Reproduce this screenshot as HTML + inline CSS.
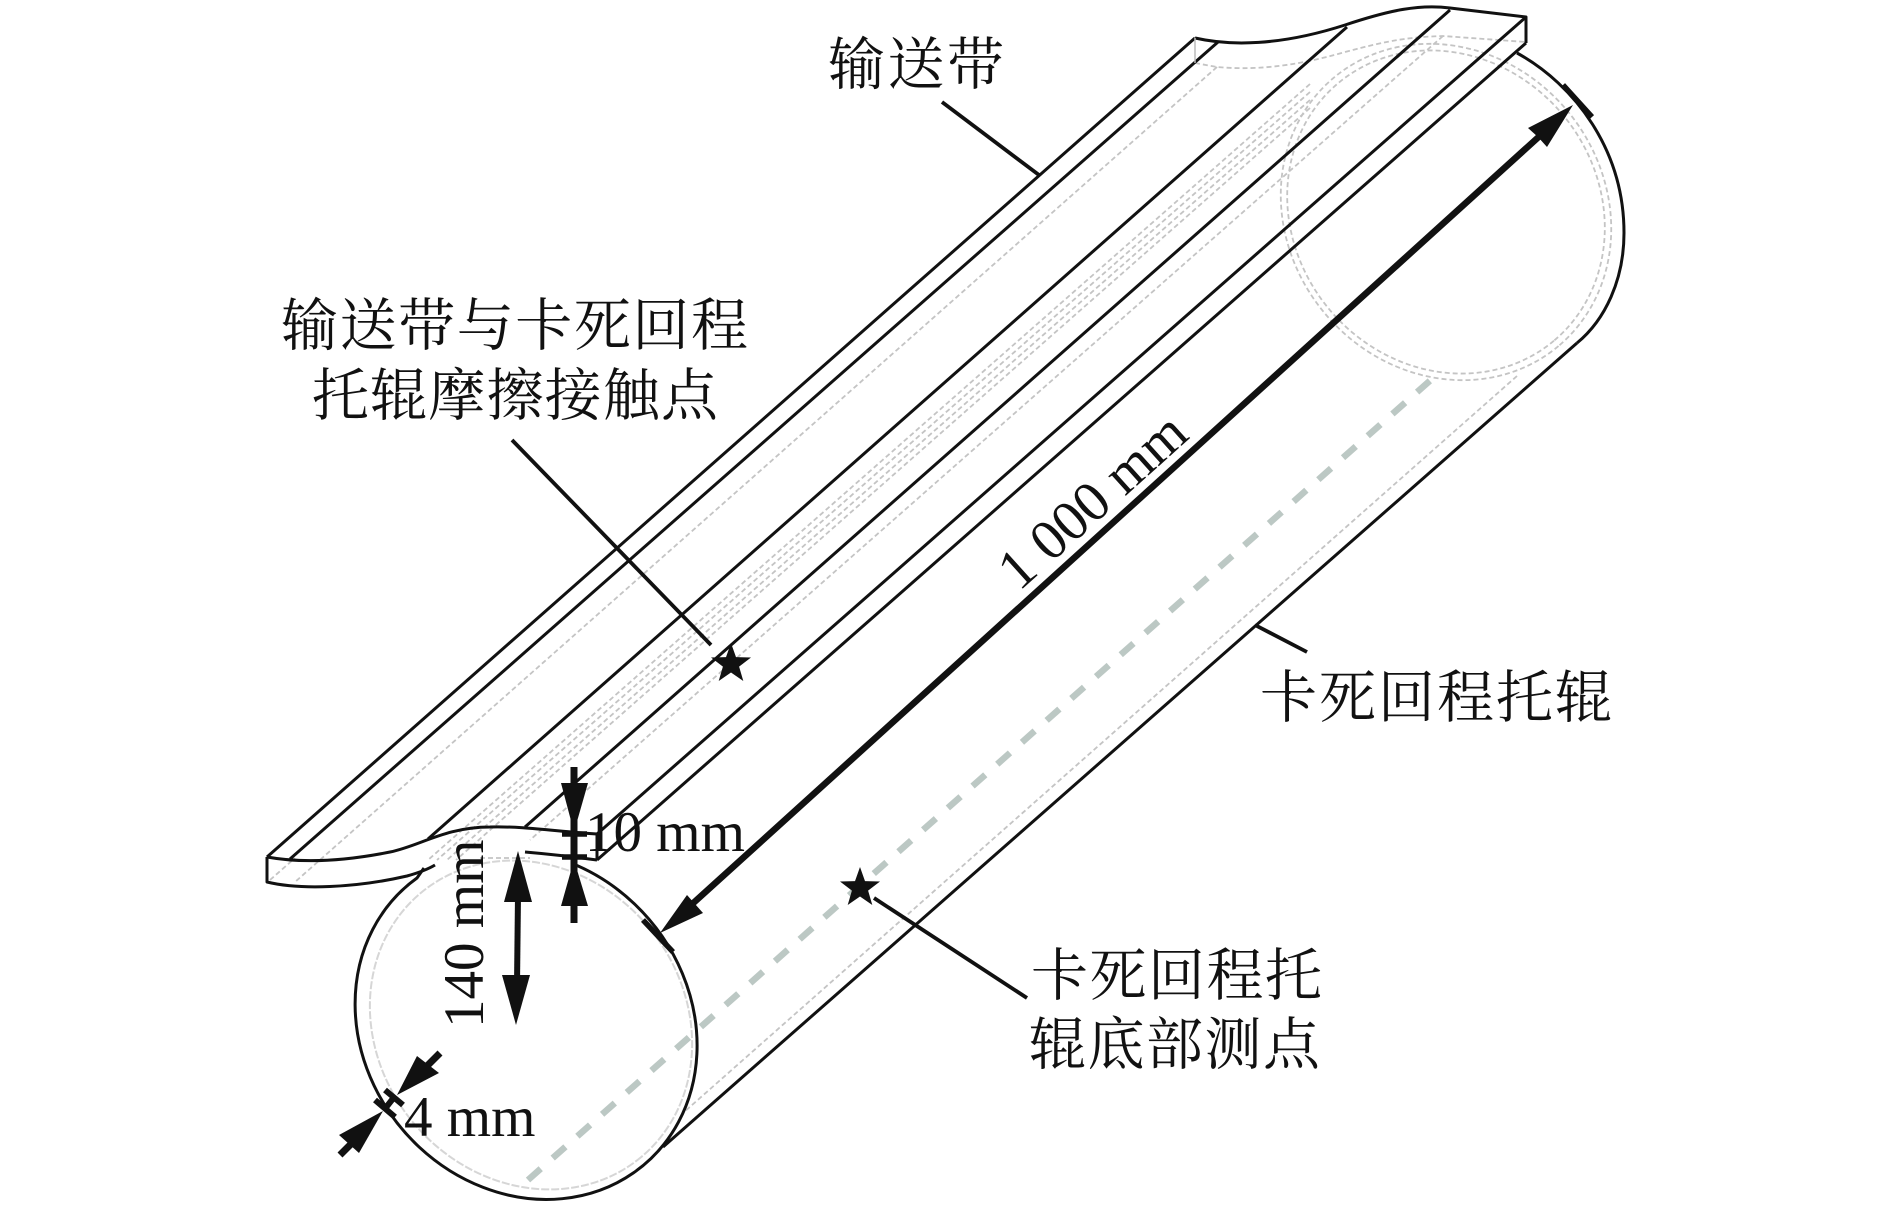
<!DOCTYPE html>
<html>
<head>
<meta charset="utf-8">
<style>
html,body{margin:0;padding:0;background:#fff;}
svg{display:block;}
.cn{font-family:"Liberation Serif","Noto Serif CJK SC",serif;font-size:57px;fill:#111;}
.en{font-family:"Liberation Serif",serif;font-size:57px;fill:#111;}
</style>
</head>
<body>
<svg xmlns="http://www.w3.org/2000/svg" width="1890" height="1208" viewBox="0 0 1890 1208">
<rect width="1890" height="1208" fill="#fff"/>

<!-- light hidden lines -->
<g fill="none" stroke="#c4c4c4" stroke-width="1.8" stroke-dasharray="5 3">
  <ellipse cx="1446" cy="212" rx="175" ry="158" transform="rotate(50 1446 212)"/>
  <ellipse cx="1446" cy="212" rx="168" ry="152" transform="rotate(50 1446 212)"/>
  <path d="M1195,63 L1217,67 C1250,70 1290,68 1345,52 C1390,40 1410,37 1443,36 L1526,42"/>
  <path d="M1217,67 L295,882"/>
  <path d="M270,880 L295,858"/>
  <path d="M1310,84 L428,860"/>
  <path d="M1310,92 L437,860"/>
  <path d="M1310,100 L447,860"/>
  <path d="M1310,108 L456,860"/>
  <path d="M1443,36 L530,840"/>
  <path d="M1517,376 L683,1113"/>
  <path d="M480,858 L530,858"/>
</g>
<ellipse cx="531" cy="1025" rx="172" ry="153" transform="rotate(50 531 1025)" fill="none" stroke="#d6d6d6" stroke-width="2" stroke-dasharray="8 2"/>

<!-- dashed bottom line -->
<path d="M528,1180 L1433,378" fill="none" stroke="#bcc8c4" stroke-width="6.5" stroke-dasharray="17 16"/>

<!-- black outline -->
<g fill="none" stroke="#111" stroke-width="3" stroke-linejoin="round">
  <path d="M267,857 L1195,38"/>
  <path d="M290,859 L1218,42"/>
  <path d="M428,839 L1347,27"/>
  <path d="M525,827 L1450,10"/>
  <path d="M597,834 L1526,17"/>
  <path d="M597,860 L1526,43"/>
  <path d="M267,857 C300,863 340,862 390,852 C420,846 445,827 490,827 C525,826 560,832 597,834"/>
  <path d="M1195,38 C1230,46 1280,46 1345,25 C1390,10 1420,4 1450,8 L1526,17 L1526,43"/>
  <path d="M267,857 L267,882 C300,890 355,888 407,876 Q425,871 435,865"/>
  <path d="M597,834 L597,860"/>
  <path d="M525,852 Q560,855 597,860"/>
  <path d="M424,868 L417,878 A183 162 50 1 0 571,863"/>
  <path d="M1517,53 C1575,85 1624,150 1624,233 C1624,280 1605,320 1577,343"/>
  <path d="M663,1147 L1577,343"/>
</g>
<path d="M1195,38 L1195,63" stroke="#bbb" stroke-width="1.5" fill="none"/>

<!-- main dimension arrow -->
<path d="M690,906 L1543,133" stroke="#111" stroke-width="6.5" fill="none"/>
<polygon points="1573,105 1547,147 1538,137 1528,128" fill="#111"/>
<polygon points="660,933 687,895 695,904 703,913" fill="#111"/>
<path d="M1563,85 L1592,117 M643,920 L673,952" stroke="#111" stroke-width="5.5" fill="none"/>

<!-- 10 mm -->
<g fill="#111">
  <path d="M574,767 L574,923" stroke="#111" stroke-width="7" fill="none"/>
  <path d="M562,834 L587,834 M562,857 L587,857" stroke="#111" stroke-width="5.5" fill="none"/>
  <polygon points="574,832 561,783 588,783"/>
  <polygon points="574,860 561,906 588,906"/>
</g>

<!-- 140 mm -->
<g fill="#111">
  <path d="M518,895 L517,985" stroke="#111" stroke-width="6" fill="none"/>
  <polygon points="518,851 504,902 532,902"/>
  <polygon points="516,1025 502,975 530,975"/>
</g>

<!-- 4 mm -->
<g fill="#111">
  <path d="M440,1053 L420,1073" stroke="#111" stroke-width="7" fill="none"/>
  <polygon points="397,1095 417,1056 439,1073"/>
  <path d="M340,1155 L362,1133" stroke="#111" stroke-width="7" fill="none"/>
  <polygon points="383,1111 339,1135 359,1153"/>
  <path d="M385,1090 L403,1105 M375,1100 L395,1117 M395,1096 L384,1110" stroke="#111" stroke-width="6" fill="none"/>
</g>

<!-- leaders -->
<g stroke="#111" stroke-width="3.8" fill="none">
  <path d="M942,102 L1039,175"/>
  <path d="M512,440 L711,645"/>
  <path d="M1255,625 L1307,652"/>
  <path d="M874,898 L1027,998"/>
</g>

<!-- stars -->
<polygon fill="#111" transform="translate(731,664)" points="0,-21 5,-6.9 20,-6.5 8.1,2.6 12.3,17 0,8.5 -12.3,17 -8.1,2.6 -20,-6.5 -5,-6.9"/>
<polygon fill="#111" transform="translate(860,888)" points="0,-21 5,-6.9 20,-6.5 8.1,2.6 12.3,17 0,8.5 -12.3,17 -8.1,2.6 -20,-6.5 -5,-6.9"/>

<!-- text -->
<text class="cn" x="828" y="84" textLength="176" lengthAdjust="spacing">输送带</text>
<text class="cn" x="281" y="345" textLength="467" lengthAdjust="spacing">输送带与卡死回程</text>
<text class="cn" x="312" y="415" textLength="406" lengthAdjust="spacing">托辊摩擦接触点</text>
<text class="cn" x="1260" y="717" textLength="352" lengthAdjust="spacing">卡死回程托辊</text>
<text class="cn" x="1031" y="995" textLength="291" lengthAdjust="spacing">卡死回程托</text>
<text class="cn" x="1029" y="1064" textLength="291" lengthAdjust="spacing">辊底部测点</text>

<text class="en" x="585" y="851">10 mm</text>
<text class="en" x="404" y="1136">4 mm</text>
<text class="en" transform="translate(483,1028) rotate(-90)">140 mm</text>
<text class="en" transform="translate(1019,592) rotate(-42)">1 000 mm</text>
</svg>
</body>
</html>
